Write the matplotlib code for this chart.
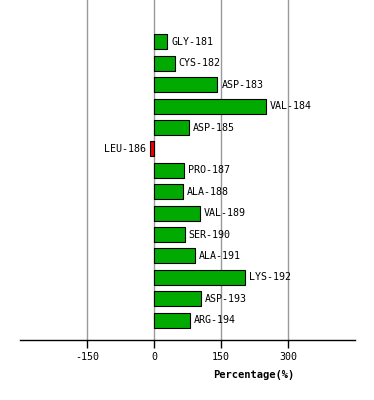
import matplotlib.pyplot as plt
import numpy as np

residues = ['GLY-181', 'CYS-182', 'ASP-183', 'VAL-184', 'ASP-185', 'LEU-186', 'PRO-187',
            'ALA-188', 'VAL-189', 'SER-190', 'ALA-191', 'LYS-192', 'ASP-193', 'ARG-194']
values = [30, 46, 142, 251, 78, -9, 67, 64, 102, 69, 91, 204, 105, 80]
xticks = [-150, 0, 150, 300]

fig = plt.figure(figsize=(3.74, 4.0), dpi=100)
ax = fig.add_axes([20/374, 60/400, 335/374, 340/400])

y = np.arange(len(residues))
colors = ['#00aa00' if v >= 0 else '#ee0000' for v in values]
ax.barh(y, values, height=0.7, color=colors, edgecolor='black', linewidth=0.8, zorder=3)

for yi, v, name in zip(y, values, residues):
    if v >= 0:
        ax.text(v + 9, yi, name, ha='left', va='center', fontsize=7.2,
                family='DejaVu Sans Mono', zorder=4)
    else:
        ax.text(v - 9, yi, name, ha='right', va='center', fontsize=7.2,
                family='DejaVu Sans Mono', zorder=4)

ax.set_xlim(-300, 450)
ax.set_ylim(13.93, -1.96)
ax.set_xticks(xticks)
ax.set_xticklabels([str(t) for t in xticks], family='DejaVu Sans Mono', fontsize=7.2)
ax.set_yticks([])
ax.grid(axis='x', color='#999999', linewidth=1, zorder=0)
for s in ['top', 'left', 'right']:
    ax.spines[s].set_visible(False)
ax.spines['bottom'].set_linewidth(1)
ax.tick_params(axis='x', length=6, width=1, pad=3)

fig.text(254/374, 1 - 375/400, 'Percentage(%)', ha='center', va='center',
         fontsize=7.5, fontweight='bold', family='DejaVu Sans Mono')

fig.savefig('out.png', dpi=100)
